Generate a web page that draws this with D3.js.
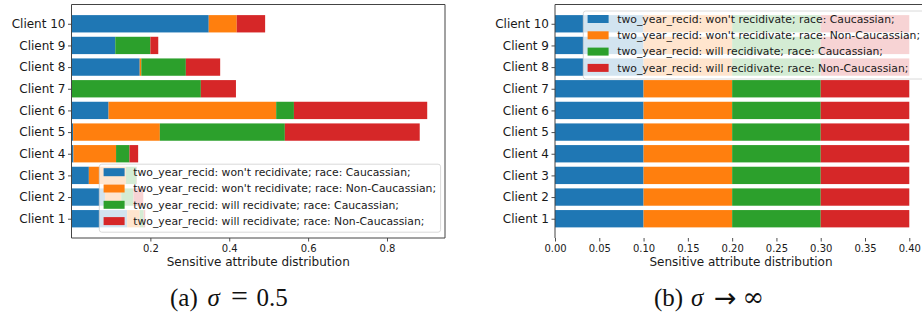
<!DOCTYPE html>
<html><head><meta charset="utf-8">
<script src="https://cdn.jsdelivr.net/npm/d3@7/dist/d3.min.js"></script>
<style>body{margin:0;background:#fff}svg{display:block}</style>
</head><body>
<svg id="c" width="922" height="316"></svg>
<script>
// ---------- data ----------
const clients = ["Client 1","Client 2","Client 3","Client 4","Client 5","Client 6","Client 7","Client 8","Client 9","Client 10"];
const seriesLabels = [
  "two_year_recid: won't recidivate; race: Caucassian;",
  "two_year_recid: won't recidivate; race: Non-Caucassian;",
  "two_year_recid: will recidivate; race: Caucassian;",
  "two_year_recid: will recidivate; race: Non-Caucassian;"
];
const colors = ["#1f77b4","#ff7f0e","#2ca02c","#d62728"];
// (a) sigma = 0.5
const aWontCauc    = [0.141,0.085,0.044,0.005,0.004,0.094,0.001,0.173,0.111,0.348];
const aWontNonCauc = [0.032,0.041,0.094,0.108,0.220,0.425,0.000,0.004,0.000,0.071];
const aWillCauc    = [0.010,0.031,0.027,0.034,0.317,0.045,0.327,0.113,0.089,0.000];
const aWillNonCauc = [0.004,0.025,0.001,0.022,0.342,0.338,0.089,0.087,0.020,0.072];
// (b) sigma -> infinity
const bWontCauc    = [0.1,0.1,0.1,0.1,0.1,0.1,0.1,0.1,0.1,0.1];
const bWontNonCauc = [0.1,0.1,0.1,0.1,0.1,0.1,0.1,0.1,0.1,0.1];
const bWillCauc    = [0.1,0.1,0.1,0.1,0.1,0.1,0.1,0.1,0.1,0.1];
const bWillNonCauc = [0.1,0.1,0.1,0.1,0.1,0.1,0.1,0.1,0.1,0.1];
const aTicks = [0.2,0.4,0.6,0.8];
const bTicks = [0,0.05,0.1,0.15,0.2,0.25,0.3,0.35,0.4];

const svg = d3.select("#c");
const FONT = "'DejaVu Sans', sans-serif";

function panel(opt){
  const series = opt.series;
  const totals = clients.map((c,i)=>d3.sum(series,s=>s[i]));
  const xMax = d3.max(totals)*1.05;
  const x = d3.scaleLinear().domain([0,xMax]).range([opt.x0,opt.x1]);
  const y = d3.scaleLinear().domain([-0.89, clients.length-1+0.89]).range([opt.yBottom, opt.yTop]);
  const step = Math.abs(y(1)-y(0));
  const bh = step*0.8;
  const g = svg.append("g");
  series.forEach((s,k)=>{
    g.append("g").selectAll("rect").data(clients).join("rect")
      .attr("x",(c,i)=>x(d3.sum(series.slice(0,k),t=>t[i])))
      .attr("width",(c,i)=>x(s[i])-x(0))
      .attr("y",(c,i)=>y(i)-bh/2)
      .attr("height",bh)
      .attr("fill",colors[k]);
  });
  const xa = g.append("g").attr("transform",`translate(0,${opt.yBottom})`)
    .call(d3.axisBottom(x).tickValues(opt.ticks).tickFormat(d3.format(opt.fmt)).tickSize(3.5).tickPadding(3));
  xa.select(".domain").remove();
  xa.selectAll("line").attr("stroke","#222").attr("stroke-width",0.8);
  xa.selectAll("text").attr("font-family",FONT).attr("font-size",10).attr("fill","#1a1a1a");
  const ya = g.append("g").attr("transform",`translate(${opt.x0},0)`)
    .call(d3.axisLeft(y).tickValues(d3.range(clients.length)).tickFormat(i=>clients[i]).tickSize(3.5).tickPadding(2.5));
  ya.select(".domain").remove();
  ya.selectAll("line").attr("stroke","#222").attr("stroke-width",0.8);
  ya.selectAll("text").attr("font-family",FONT).attr("font-size",12).attr("fill","#1a1a1a");
  const sp = g.append("g").attr("stroke","#444").attr("stroke-width",1).attr("fill","none");
  sp.append("line").attr("x1",opt.x0).attr("x2",opt.x0).attr("y1",opt.yTop).attr("y2",opt.yBottom);
  sp.append("line").attr("x1",opt.x0).attr("x2",opt.x1).attr("y1",opt.yTop).attr("y2",opt.yTop);
  if(opt.bottomSpine){
    sp.append("line").attr("x1",opt.x0).attr("x2",opt.x1).attr("y1",opt.yBottom).attr("y2",opt.yBottom);
    sp.append("line").attr("x1",opt.x1).attr("x2",opt.x1).attr("y1",opt.yTop).attr("y2",opt.yBottom);
  }
  g.append("text").attr("x",(opt.x0+opt.x1)/2).attr("y",opt.yBottom+27.5)
    .attr("text-anchor","middle").attr("font-family",FONT).attr("font-size",12).attr("fill","#1a1a1a")
    .text("Sensitive attribute distribution");
  const lg = g.append("g").attr("transform",`translate(${opt.lx},${opt.ly})`);
  const box = lg.append("rect").attr("rx",2.5).attr("fill","#fff").attr("fill-opacity",0.8)
    .attr("stroke","#d0d0d0").attr("stroke-width",0.8);
  let maxW = 0;
  seriesLabels.forEach((lab,k)=>{
    const cy = 8 + k*16.3;
    lg.append("rect").attr("x",4.3).attr("y",cy-4).attr("width",21).attr("height",8).attr("fill",colors[k]);
    const t = lg.append("text").attr("x",34).attr("y",cy).attr("dy","0.35em")
      .attr("font-family",FONT).attr("font-size",10.8).attr("fill","#1a1a1a").text(lab);
    maxW = Math.max(maxW, t.node().getComputedTextLength());
  });
  box.attr("x",0).attr("y",0).attr("width",34+maxW+4.5).attr("height",68);
}

panel({series:[aWontCauc,aWontNonCauc,aWillCauc,aWillNonCauc], x0:71.5, x1:445, yTop:4.5, yBottom:238,
  ticks:aTicks, fmt:".1f", bottomSpine:true, lx:99.3, ly:164.2});
panel({series:[bWontCauc,bWontNonCauc,bWillCauc,bWillNonCauc], x0:555, x1:927, yTop:4.5, yBottom:238,
  ticks:bTicks, fmt:".2f", bottomSpine:false, lx:583.3, ly:11});

// captions
const SERIF = "'Liberation Serif', 'DejaVu Serif', serif";
function cap(parts){
  parts.forEach(p=>{
    svg.append("text").attr("x",p[0]).attr("y",p[5]||306).attr("font-family",p[4]||SERIF).attr("font-size",p[3]||25)
      .attr("font-style",p[2]||"normal").attr("fill","#111").text(p[1]);
  });
}
cap([[170,"(a)"],[207.5,"σ","italic"],[231,"=","normal",30],[256.5,"0.5"]]);
cap([[654,"(b)"],[691,"σ","italic"],[714,"→","normal",27,"'DejaVu Sans', sans-serif",307],[742.5,"∞","normal",26,"'DejaVu Serif', serif",306]]);
</script>
</body></html>
